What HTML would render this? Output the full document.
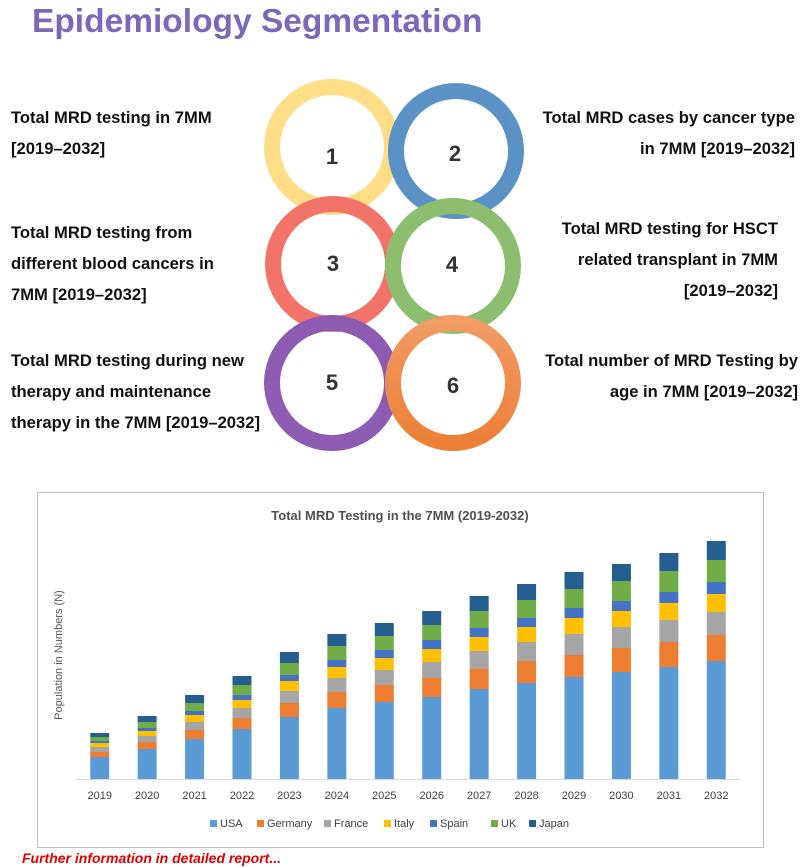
<!DOCTYPE html>
<html><head><meta charset="utf-8"><style>
body{margin:0;width:802px;height:867px;background:#fff;position:relative;overflow:hidden;font-family:"Liberation Sans",Arial,sans-serif}
.t{position:absolute;font-weight:bold;font-size:16.6px;line-height:31px;color:#111}
</style></head><body>
<div style="position:absolute;left:32px;top:3px;font-size:33.5px;font-weight:bold;color:#7b68b8;">Epidemiology Segmentation</div>
<div class="t" style="left:11px;top:102px">Total MRD testing in 7MM<br>[2019–2032]</div>
<div class="t" style="right:7px;top:102px;text-align:right">Total MRD cases by cancer type<br>in 7MM [2019–2032]</div>
<div class="t" style="left:11px;top:217px">Total MRD testing from<br>different blood cancers in<br>7MM [2019–2032]</div>
<div class="t" style="right:24px;top:213px;text-align:right">Total MRD testing for HSCT<br>related transplant in 7MM<br>[2019–2032]</div>
<div class="t" style="left:11px;top:345px">Total MRD testing during new<br>therapy and maintenance<br>therapy in the 7MM [2019–2032]</div>
<div class="t" style="right:4px;top:345px;text-align:right">Total number of MRD Testing by<br>age in 7MM [2019–2032]</div>
<svg width="802" height="470" style="position:absolute;left:0;top:0">
<defs><linearGradient id="og" x1="0" y1="0" x2="0" y2="1"><stop offset="0" stop-color="#f08a4a"/><stop offset="1" stop-color="#e86a14"/></linearGradient></defs>
<g fill="none" stroke-width="16" opacity="0.85">
<circle cx="332" cy="147" r="60" stroke="#ffd873"/>
<circle cx="456" cy="151" r="60" stroke="#3f7fbb"/>
<circle cx="333" cy="264" r="60" stroke="#f05c4e"/>
<circle cx="453" cy="266" r="60" stroke="#7ab357"/>
<circle cx="332" cy="383" r="60" stroke="#7b3fa6"/>
<circle cx="453" cy="383" r="60" stroke="url(#og)"/>
</g>
<g font-size="22" font-weight="bold" fill="#333" text-anchor="middle" font-family="Liberation Sans,sans-serif">
<text x="332" y="164">1</text><text x="455" y="161">2</text><text x="333" y="271">3</text><text x="452" y="272">4</text><text x="332" y="390">5</text><text x="453" y="393">6</text></g>
</svg>
<svg id="chart" width="802" height="867" style="position:absolute;left:0;top:0"></svg>
<div style="position:absolute;left:22px;top:850px;font-size:14px;font-weight:bold;font-style:italic;color:#e00000">Further information in detailed report...</div>
<script>
const years=["2019","2020","2021","2022","2023","2024","2025","2026","2027","2028","2029","2030","2031","2032"];
const seriesNames=["USA","Germany","France","Italy","Spain","UK","Japan"];
const colors=["#5b9bd5","#ed7d31","#a5a5a5","#ffc000","#4472c4","#70ad47","#255e91"];
const usa=[22,30,40,50,62,71,77,82,90,96,102,107,112,118];
const germany=[5,7,9,11,14,16,17,19,20,22,22,24,25,26];
const france=[5,6,8,10,12,14,15,16,18,19,21,21,22,23];
const italy=[4,5,7,8,10,11,12,13,14,15,16,16,17,18];
const spain=[2,3,4,5,6,7,8,9,9,9,10,10,11,12];
const uk=[4,6,8,10,12,14,14,15,17,18,19,20,21,22];
const japan=[4,6,8,9,11,12,13,14,15,16,17,17,18,19];
const series=[usa,germany,france,italy,spain,uk,japan];
const NS="http://www.w3.org/2000/svg";
const svg=document.getElementById('chart');
function mk(t,a){const e=document.createElementNS(NS,t);for(const k in a)e.setAttribute(k,a[k]);svg.appendChild(e);return e;}
const box=mk('rect',{x:37.5,y:492.5,width:726,height:355,fill:'#fff',stroke:'#bfbfbf'});


const x0=76,x1=740,baseY=779,step=(x1-x0)/years.length,bw=19;
function xc(i){return x0+step*(i+0.5);}
function yv(v){return v*1.0;}
const ttl=mk('text',{x:400,y:520,'text-anchor':'middle','font-size':13,'font-weight':'bold',fill:'#505050'});ttl.textContent='Total MRD Testing in the 7MM (2019-2032)';


const yl=mk('text',{transform:'translate(62,655) rotate(-90)','text-anchor':'middle','font-size':11,fill:'#595959'});yl.textContent='Population in Numbers (N)';


years.forEach((y,i)=>{let cum=0;series.forEach((s,k)=>{const h=yv(s[i]);const r=mk('rect',{x:xc(i)-bw/2,y:baseY-cum-h,width:bw,height:h,fill:colors[k]});


cum+=h;});
const t=mk('text',{x:xc(i),y:799,'text-anchor':'middle','font-size':11,fill:'#404040'});t.textContent=y;


});
const ax=mk('line',{x1:x0,x2:x1,y1:baseY+0.5,y2:baseY+0.5,stroke:'#d9d9d9'});


const lx=[210,257,324,384,430,491,529];
seriesNames.forEach((n,k)=>{const r=mk('rect',{x:lx[k],y:820,width:7,height:7,fill:colors[k]});


const t=mk('text',{x:lx[k]+10,y:827,'font-size':11,fill:'#404040'});t.textContent=n;


});
</script>
</body></html>
